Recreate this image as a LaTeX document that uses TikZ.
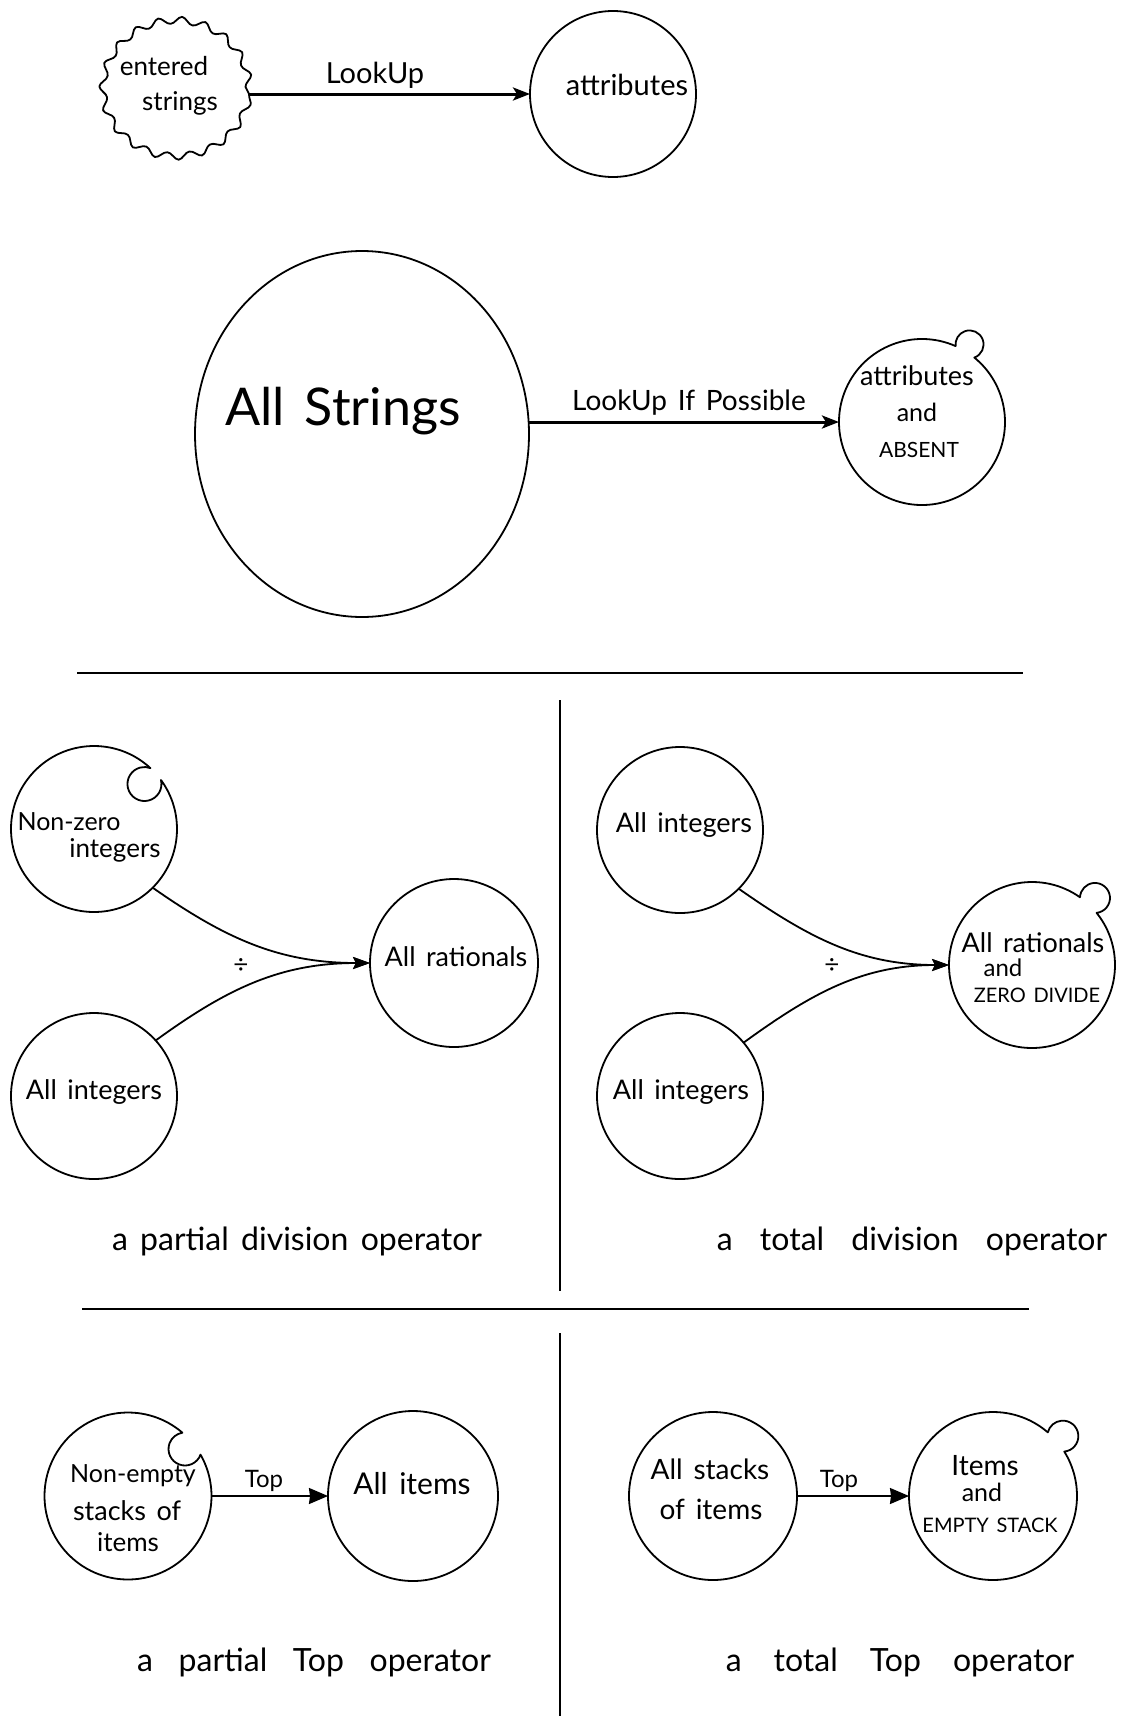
\documentclass[tikz,border=0pt]{standalone}
\usepackage{fontspec}
\setmainfont{Lato}[WordSpace=1.5]
\usetikzlibrary{arrows.meta,shapes.geometric,decorations.pathmorphing,calc}
\newcommand\fs[1]{\fontsize{#1}{#1}\selectfont}
\newcommand\gap[1]{\hspace{#1em}}
% outline of a circle node with a bump (#6=1) or a bite (#6=-1)
% #1 node, #2 R, #3 angle, #4 distance of small centre, #5 small radius
\newcommand\setlobe[6]{%
  \pgfmathsetmacro\lbAl{acos(((#2/10)^2+(#4/10)^2-(#5/10)^2)/(2*(#2/10)*(#4/10)))}%
  \pgfmathsetmacro\lbGa{acos(((#5/10)^2+(#4/10)^2-(#2/10)^2)/(2*(#5/10)*(#4/10)))}%
  \pgfmathsetmacro\lbBigS{#3+\lbAl}%
  \pgfmathsetmacro\lbBigE{#3+360-\lbAl}%
  \pgfmathsetmacro\lbSmS{#3+180+\lbGa}%
  \pgfmathsetmacro\lbSmE{#3+180-\lbGa+180*(1+#6)}%
  \draw[setline] (#1.center) ++(\lbBigS:#2)
    arc[start angle=\lbBigS, end angle=\lbBigE, radius=#2]
    arc[start angle=\lbSmS, end angle=\lbSmE, radius=#5] -- cycle;
}
\begin{document}
\begin{tikzpicture}[x=1pt,y=1pt,
  setline/.style={line width=1.8pt, line join=round},
  set/.style={circle, draw, setline, minimum size=#1, inner sep=0pt, outer sep=0pt},
  lobed/.style={circle, minimum size=#1, inner sep=0pt, outer sep=0pt},
  lbl/.style={anchor=base, inner sep=0pt, font=\fs{#1}},
  cloudst/.style={ellipse, draw, setline, minimum width=146pt, minimum height=136pt,
    inner sep=0pt, outer sep=0pt, decorate,
    decoration={snake, amplitude=3.5pt, segment length=23pt}},
  bigarrow/.style={line width=3pt, -{Stealth[length=17pt,width=13pt,inset=4pt]}},
  curvearrow/.style={line width=1.8pt, -{Stealth[length=17pt,width=12pt,inset=3pt]}},
  toparrow/.style={line width=1.8pt, -{Stealth[length=19pt,width=16pt,inset=1pt]}},
  divider/.style={line width=1.5pt}
]
\useasboundingbox (0,0) rectangle (1126,-1716);

% ---------- row 1 ----------
\node[cloudst] (cloud) at (176,-94) {};
\node[lbl=26] (t-entered) at (164,-75) {entered};
\node[lbl=26] (t-strings) at (180,-110) {strings};
\node[set=166pt] (attr) at (613,-94) {};
\node[lbl=29] (t-attr) at (627,-95) {attributes};
\draw[bigarrow] (cloud) -- (attr);
\node[lbl=29] (t-lookup) at (375,-83) {LookUp};

% ---------- row 2 ----------
\node[ellipse, draw, setline, minimum width=334pt, minimum height=366pt, inner sep=0pt, outer sep=0pt] (strs) at (362,-434) {};
\node[lbl=52] (t-all) at (343,-425) {All Strings};
\node[lobed=166pt] (absent) at (922,-422) {};
\setlobe{absent}{83}{58.5}{91}{14}{1}
\node[lbl=27] (t-attr2) at (917,-385) {attributes};
\node[lbl=25] (t-and1) at (917,-421) {and};
\node[lbl=21] (t-absent) at (919,-457) {ABSENT};
\draw[bigarrow] (strs.east |- absent.west) -- (absent.west);
\node[lbl=28] (t-lip) at (689,-410) {LookUp If Possible};

% ---------- dividers ----------
\coordinate (h1a) at (77,-673);  \coordinate (h1b) at (1023,-673);
\coordinate (v1a) at (560,-700); \coordinate (v1b) at (560,-1291);
\coordinate (h2a) at (82,-1309); \coordinate (h2b) at (1029,-1309);
\coordinate (v2a) at (560,-1333); \coordinate (v2b) at (560,-1716);
\draw[divider] (h1a) -- (h1b);
\draw[divider] (v1a) -- (v1b);
\draw[divider] (h2a) -- (h2b);
\draw[divider] (v2a) -- (v2b);

% ---------- partial division ----------
\node[lobed=166pt] (nz) at (94,-829) {};
\setlobe{nz}{83}{41.7}{67.6}{17}{-1}
\node[lbl=25] (t-nonzero) at (69,-830) {Non-zero};
\node[lbl=26] (t-integers) at (115,-857) {integers};
\node[set=166pt] (ail) at (94,-1096) {};
\node[lbl=27] (t-ail) at (94,-1099) {All integers};
\node[set=168pt] (rat) at (454,-963) {};
\node[lbl=27] (t-rat) at (456,-966) {All rationals};
\draw[curvearrow] (nz.-45) to[out=-35, in=180] (rat.west);
\draw[curvearrow] (ail.42) to[out=36, in=180] (rat.west);
\node[font=\fs{26}, inner sep=0pt] (div1) at (241,-966) {÷};
\node[lbl=32] (cap1) at (297,-1250) {a partial division operator};

% ---------- total division ----------
\node[set=166pt] (air1) at (680,-830) {};
\node[lbl=27] (t-air1) at (684,-832) {All integers};
\node[set=166pt] (air2) at (680,-1096) {};
\node[lbl=27] (t-air2) at (681,-1099) {All integers};
\node[lobed=166pt] (ratz) at (1032,-965) {};
\setlobe{ratz}{83}{46.8}{92}{15}{1}
\node[lbl=27] (t-ratz) at (1033,-952) {All rationals};
\node[lbl=24] (t-and2) at (1003,-976) {and};
\node[lbl=20] (t-zd) at (1037,-1002) {ZERO DIVIDE};
\draw[curvearrow] (air1.-45) to[out=-35, in=180] (ratz.west);
\draw[curvearrow] (air2.40) to[out=36, in=180] (ratz.west);
\node[font=\fs{26}, inner sep=0pt] (div2) at (832,-966) {÷};
\node[lbl=32] (cap2) at (912,-1250) {a\gap{0.85}total\gap{0.85}division\gap{0.85}operator};

% ---------- partial Top ----------
\node[lobed=167pt] (ne) at (128,-1496) {};
\setlobe{ne}{83.5}{39.5}{73.9}{16.5}{-1}
\node[lbl=25] (t-nonempty) at (133,-1482) {Non-empty};
\node[lbl=27] (t-stacksof) at (127,-1520) {stacks of};
\node[lbl=26] (t-items) at (128,-1551) {items};
\node[set=170pt] (items) at (413,-1496) {};
\node[lbl=30] (t-allitems) at (412,-1494) {All items};
\draw[toparrow] (ne) -- (items);
\node[lbl=24] (t-top1) at (264,-1487) {Top};
\node[lbl=32] (cap3) at (314,-1671) {a\gap{0.8}partial\gap{0.8}Top\gap{0.8}operator};

% ---------- total Top ----------
\node[set=168pt] (ast) at (713,-1496) {};
\node[lbl=28] (t-allstacks) at (710,-1479) {All stacks};
\node[lbl=28] (t-ofitems) at (711,-1519) {of items};
\node[lobed=168pt] (ies) at (993,-1496) {};
\setlobe{ies}{84}{40.6}{92}{15.5}{1}
\node[lbl=28] (t-Items) at (985,-1475) {Items};
\node[lbl=25] (t-and3) at (982,-1501) {and};
\node[lbl=20] (t-es) at (990,-1532) {EMPTY STACK};
\draw[toparrow] (ast) -- (ies);
\node[lbl=24] (t-top2) at (839,-1487) {Top};
\node[lbl=32] (cap4) at (900,-1671) {a\gap{1}total\gap{1}Top\gap{1}operator};
\end{tikzpicture}
\end{document}
